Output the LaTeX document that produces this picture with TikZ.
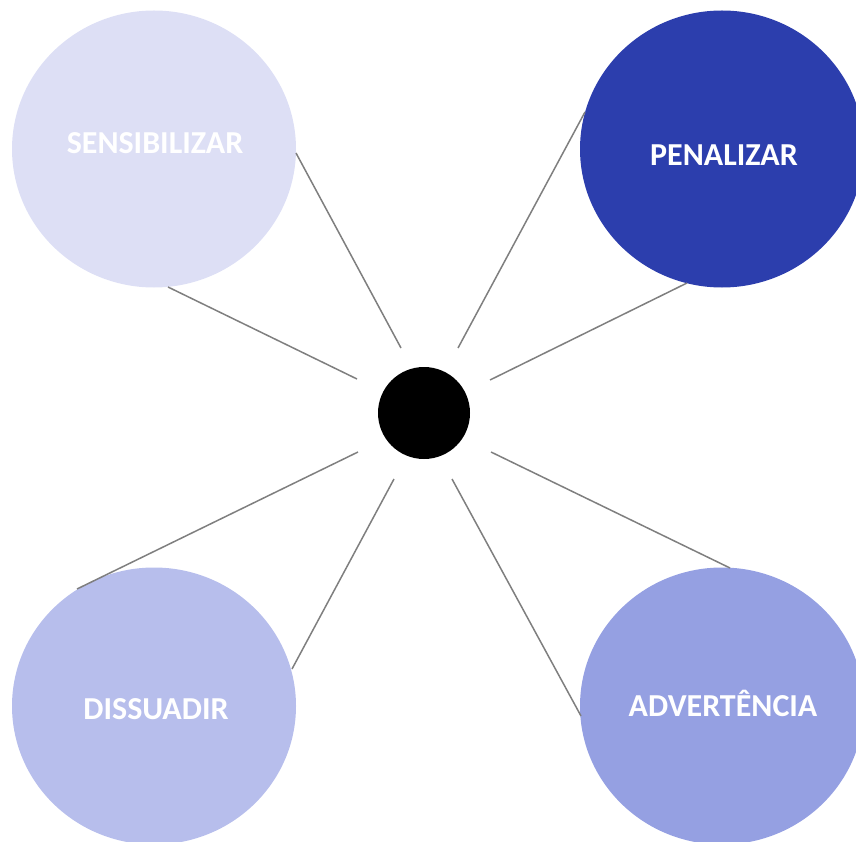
\documentclass[tikz,border=0pt]{standalone}
\usepackage{fontspec}
\setmainfont{Carlito}
\usetikzlibrary{shapes.geometric}
\definecolor{csens}{HTML}{DDDFF5}
\definecolor{cpena}{HTML}{2C3EAD}
\definecolor{cdiss}{HTML}{B7BEEC}
\definecolor{cadv}{HTML}{95A0E2}
\definecolor{spokegray}{HTML}{7F7F7F}
\begin{document}
\begin{tikzpicture}[x=1pt,y=-1pt,
  bubble/.style={ellipse,minimum width=284pt,minimum height=277pt,inner sep=0pt,draw=none},
  lbl/.style={text=white,font=\bfseries\fontsize{32}{32}\selectfont,anchor=base,inner sep=0pt},
  spoke/.style={draw=spokegray,line width=1.5pt}]
\path[use as bounding box] (0,0) rectangle (856,842);
\clip (0,0) rectangle (856,842);
\node[bubble,fill=csens] (sens) at (154,149) {};
\node[bubble,fill=cpena] (pena) at (722,149) {};
\node[bubble,fill=cdiss] (diss) at (154,706) {};
\node[bubble,fill=cadv] (adv) at (722,706) {};
\node[circle,fill=black,minimum size=92pt,inner sep=0pt] (hub) at (424,413) {};
\node[lbl] (tsens) at (155,154) {SENSIBILIZAR};
\node[lbl] (tpena) at (724,166) {PENALIZAR};
\node[lbl] (tdiss) at (156,719) {DISSUADIR};
\node[lbl] (tadv) at (723,716) {ADVERTÊNCIA};
% spoke end points
\coordinate (s1o) at (296,153);  \coordinate (s1i) at (401,348);
\coordinate (s2o) at (168,287);  \coordinate (s2i) at (357,379);
\coordinate (p1o) at (585,112);  \coordinate (p1i) at (458,348);
\coordinate (p2o) at (687,283);  \coordinate (p2i) at (490,380);
\coordinate (d1o) at (77,589);   \coordinate (d1i) at (358,452);
\coordinate (d2o) at (292,669);  \coordinate (d2i) at (394,479);
\coordinate (a1o) at (730,568);  \coordinate (a1i) at (491,452);
\coordinate (a2o) at (581,716);  \coordinate (a2i) at (452,479);
\draw[spoke] (s1i) -- (s1o);
\draw[spoke] (s2i) -- (s2o);
\draw[spoke] (p1i) -- (p1o);
\draw[spoke] (p2i) -- (p2o);
\draw[spoke] (d1i) -- (d1o);
\draw[spoke] (d2i) -- (d2o);
\draw[spoke] (a1i) -- (a1o);
\draw[spoke] (a2i) -- (a2o);
\end{tikzpicture}
\end{document}
